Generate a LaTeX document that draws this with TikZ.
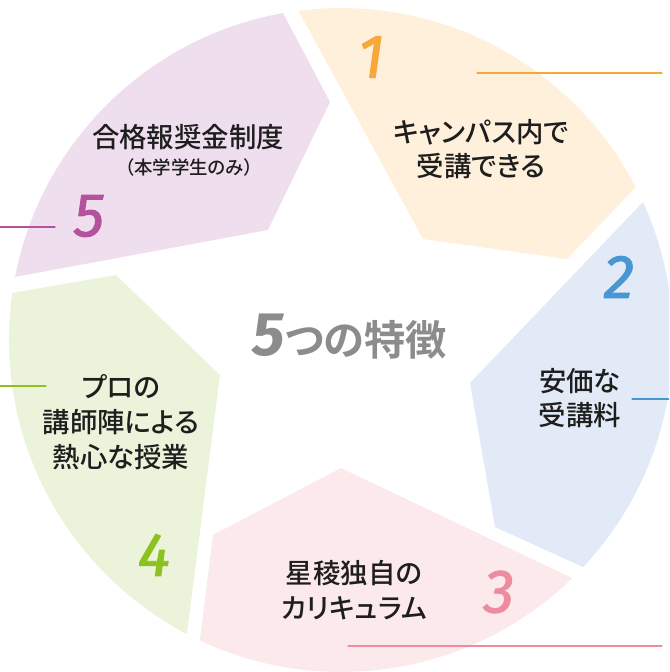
\documentclass[tikz,border=0pt]{standalone}
\usepackage{fontspec}
\usetikzlibrary{calc}

\newfontfamily\jpfont{Noto Sans CJK JP Medium}[RawFeature=+palt, BoldFont={Noto Sans CJK JP Bold}]
\newfontfamily\numfont{Fira Sans}[ItalicFeatures={FakeBold=1.6}]

\definecolor{segone}{HTML}{FEF0DB}
\definecolor{segtwo}{HTML}{E1EAF6}
\definecolor{segthree}{HTML}{FBE9EC}
\definecolor{segfour}{HTML}{ECF3DB}
\definecolor{segfive}{HTML}{EFDFEE}
\definecolor{numone}{HTML}{F6A83B}
\definecolor{numtwo}{HTML}{4896D3}
\definecolor{numthree}{HTML}{EE8B9E}
\definecolor{numfour}{HTML}{8CC220}
\definecolor{numfive}{HTML}{B4529B}
\definecolor{titlegray}{HTML}{8C8C8C}
\definecolor{inkblack}{HTML}{1E1E1E}

\begin{document}
\begin{tikzpicture}[x=0.02cm, y=-0.02cm, line cap=round, line join=round,
  feature/.style={font=\jpfont\fontsize{15.6pt}{19.8pt}\selectfont, text=inkblack, align=center, inner sep=0},
  numtxt/.style={font=\numfont\itshape\fontsize{35pt}{35pt}\selectfont, inner sep=0},
  leader/.style={line width=0.6pt}]

\clip (0,0) rectangle (669,672);

% five segments of the ring
\begin{scope}
\clip (341,340) circle[radius=6.64cm];
\fill[segone] (423,239) -- (567,259) -- ($(567,259)!4!(636,187)$) -- ($(423,239)!2!(298,10)$) -- cycle;
\fill[segtwo] (470,383) -- (495,527) -- ($(495,527)!4!(583,567)$) -- ($(470,383)!2!(643,202)$) -- cycle;
\fill[segthree] (341,468) -- (213,535) -- ($(213,535)!4!(200,640)$) -- ($(341,468)!2!(572,578)$) -- cycle;
\fill[segfour] (220,375) -- (116,275) -- ($(116,275)!4!(12,293)$) -- ($(220,375)!2!(187,633)$) -- cycle;
\fill[segfive] (268,230) -- (330,102) -- ($(330,102)!4!(283,13)$) -- ($(268,230)!2!(15,277)$) -- cycle;
\end{scope}

% leader lines
\coordinate (o1) at (477,73);  \coordinate (o1e) at (662,73);
\coordinate (o2) at (632,399); \coordinate (o2e) at (672,399);
\coordinate (o3) at (348,646); \coordinate (o3e) at (662,646);
\coordinate (o4) at (-3,386);  \coordinate (o4e) at (46,386);
\coordinate (o5) at (-3,227);  \coordinate (o5e) at (55,227);
\draw[leader, numone] (o1) -- (o1e);
\draw[leader, numtwo] (o2) -- (o2e);
\draw[leader, numthree] (o3) -- (o3e);
\draw[leader, numfour] (o4) -- (o4e);
\draw[leader, numfive] (o5) -- (o5e);

% numbers
\node[numtxt, text=numone] (n1) at (371,57) {1};
\node[numtxt, text=numtwo] (n2) at (619,277) {2};
\node[numtxt, text=numthree] (n3) at (499,592) {3};
\node[numtxt, text=numfour] (n4) at (154,555) {4};
\node[numtxt, text=numfive] (n5) at (89,216) {5};

% feature texts
\node[feature] (f1) at (481,149) {キャンパス内で\\受講できる};
\node[feature] (f2) at (580,398) {安価な\\受講料};
\node[feature] (f3) at (354,590) {星稜独自の\\カリキュラム};
\node[feature] (f4) at (121,422) {プロの\\講師陣による\\熱心な授業};
\node[feature] (f5) at (188,137) {合格報奨金制度};
\node[feature, font=\jpfont\fontsize{10.5pt}{12pt}\selectfont] (f5sub) at (189,167) {（本学学生のみ）};

% centre title
\node[anchor=base west, inner sep=0, text=titlegray] (title) at (252,355)
  {{\numfont\bfseries\itshape\fontsize{35pt}{35pt}\selectfont 5}{\jpfont\bfseries\fontsize{23.5pt}{24pt}\selectfont つの特徴}};

\end{tikzpicture}
\end{document}
